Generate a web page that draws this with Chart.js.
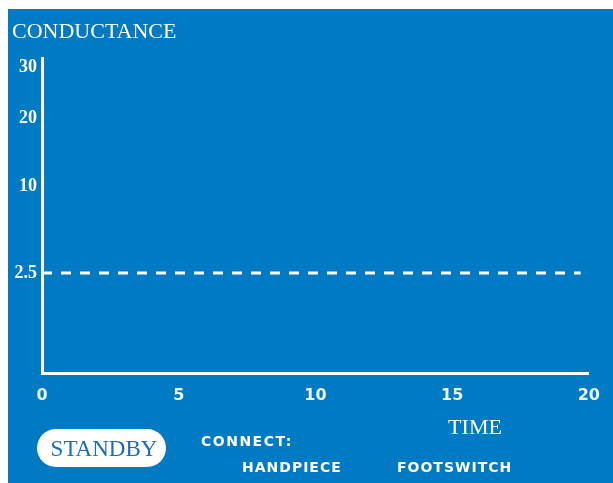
<!DOCTYPE html>
<html>
<head>
<meta charset="utf-8">
<script src="https://cdn.jsdelivr.net/npm/chart.js@4.4.1/dist/chart.umd.min.js"></script>
<style>
  html, body { margin: 0; padding: 0; background: #ffffff; }
  #wrap { width: 613px; height: 483px; }
</style>
</head>
<body>
<div id="wrap"><canvas id="conductance" width="613" height="483"></canvas></div>
<script>
// Chart values
const timeTicks = [0, 5, 10, 15, 20];
const conductanceTicks = [2.5, 10, 20, 30];
const limitTime = [0, 19.7];
const limitConductance = [2.5, 2.5];

// the conductance axis is compressed toward the top (roughly a power scale)
const POWER = 0.45;
const squash = v => Math.pow(v, POWER);

const BLUE = '#007ac2';

// blue panel behind everything, leaving the white margin at top/left
const panelPlugin = {
  id: 'panel',
  beforeDraw(chart) {
    const ctx = chart.ctx;
    ctx.save();
    ctx.fillStyle = BLUE;
    ctx.fillRect(8, 9, chart.width - 8, chart.height - 9);
    ctx.restore();
  }
};

// extra screen text: title, time label, status pill and connect hints
const labelsPlugin = {
  id: 'screenLabels',
  afterDraw(chart) {
    const ctx = chart.ctx;
    ctx.save();
    ctx.fillStyle = '#ffffff';
    ctx.textBaseline = 'middle';

    ctx.font = '22px "Liberation Serif"';
    ctx.textAlign = 'left';
    ctx.fillText('CONDUCTANCE', 12, 32);

    ctx.font = '22px "Liberation Serif"';
    ctx.textAlign = 'center';
    ctx.fillText('TIME', 475, 428);

    // STANDBY pill
    ctx.beginPath();
    ctx.roundRect(37, 429, 129, 38, 19);
    ctx.fill();
    ctx.fillStyle = '#1a6cc0';
    ctx.font = '23px "Liberation Serif"';
    ctx.fillText('STANDBY', 104, 450);

    ctx.fillStyle = '#ffffff';
    ctx.font = 'bold 14px "DejaVu Sans"';
    ctx.textAlign = 'left';
    ctx.letterSpacing = '1.5px';
    ctx.fillText('CONNECT:', 201, 442);
    ctx.letterSpacing = '1px';
    ctx.fillText('HANDPIECE', 242, 468);
    ctx.fillText('FOOTSWITCH', 397, 468);
    ctx.restore();
  }
};

const ctx = document.getElementById('conductance').getContext('2d');

new Chart(ctx, {
  type: 'line',
  data: {
    datasets: [{
      label: 'Limit',
      data: limitTime.map((t, i) => ({ x: t, y: squash(limitConductance[i]) })),
      borderColor: '#ffffff',
      borderWidth: 3,
      borderDash: [10, 9],
      pointRadius: 0,
      fill: false
    }]
  },
  options: {
    responsive: false,
    animation: false,
    layout: { padding: { top: 58, right: 17, left: 8, bottom: 0 } },
    plugins: {
      legend: { display: false },
      tooltip: { enabled: false }
    },
    scales: {
      x: {
        type: 'linear',
        min: 0,
        max: 20,
        grid: { display: false, drawTicks: false },
        border: { display: true, color: '#ffffff', width: 3 },
        afterBuildTicks: scale => { scale.ticks = timeTicks.map(v => ({ value: v })); },
        afterFit: scale => { scale.height = 110; },
        ticks: {
          color: '#eaf4fb',
          padding: 13,
          font: { family: '"DejaVu Sans"', size: 16, weight: 'bold' }
        }
      },
      y: {
        type: 'linear',
        min: 0,
        max: squash(32),
        grid: { display: false, drawTicks: false },
        border: { display: true, color: '#ffffff', width: 3 },
        afterBuildTicks: scale => {
          scale.ticks = conductanceTicks.map(v => ({ value: squash(v) }));
        },
        afterFit: scale => { scale.width = 34; },
        ticks: {
          color: '#ffffff',
          crossAlign: 'near',
          padding: 5,
          font: { family: '"Liberation Serif"', size: 18, weight: 'bold' },
          callback: function (value) {
            const raw = Math.pow(value, 1 / POWER);
            return String(Math.round(raw * 10) / 10);
          }
        }
      }
    }
  },
  plugins: [panelPlugin, labelsPlugin]
});
</script>
</body>
</html>
